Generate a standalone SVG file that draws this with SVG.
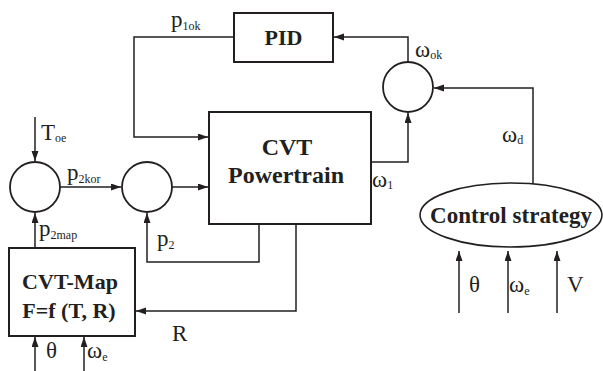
<svg xmlns="http://www.w3.org/2000/svg" width="603" height="371" viewBox="0 0 603 371">
<style>
.box{fill:#fff;stroke:#231f20;stroke-width:2}
.circ{fill:#fff;stroke:#231f20;stroke-width:1.8}
.wire{fill:none;stroke:#231f20;stroke-width:1.5}
.bt{font-family:"Liberation Serif",serif;font-weight:bold;fill:#231f20;text-anchor:middle}
.lb{font-family:"Liberation Serif",serif;fill:#231f20;font-size:23px}
.sb{font-size:12px}
</style>
<defs>
<marker id="ar" markerUnits="userSpaceOnUse" markerWidth="11" markerHeight="8" refX="10" refY="3.5" orient="auto">
<path d="M0,0 L10,3.5 L0,7 z" fill="#231f20"/>
</marker>
</defs>
<rect width="603" height="371" fill="#fff"/>
<g id="connectors">
<path class="wire" d="M234,37 H134 V137 H208" marker-end="url(#ar)"/>
<path class="wire" d="M408,62 V37 H334" marker-end="url(#ar)"/>
<path class="wire" d="M371,162 H408 V113" marker-end="url(#ar)"/>
<path class="wire" d="M533,184 V88 H434" marker-end="url(#ar)"/>
<path class="wire" d="M35,117 V161" marker-end="url(#ar)"/>
<path class="wire" d="M60,187 H121" marker-end="url(#ar)"/>
<path class="wire" d="M172,187 H208" marker-end="url(#ar)"/>
<path class="wire" d="M35,248 V213" marker-end="url(#ar)"/>
<path class="wire" d="M259,224 V262 H147 V213" marker-end="url(#ar)"/>
<path class="wire" d="M296,224 V311 H136" marker-end="url(#ar)"/>
<path class="wire" d="M35,371 V337" marker-end="url(#ar)"/>
<path class="wire" d="M84,371 V337" marker-end="url(#ar)"/>
<path class="wire" d="M459,313 V251" marker-end="url(#ar)"/>
<path class="wire" d="M508,313 V251" marker-end="url(#ar)"/>
<path class="wire" d="M557,313 V251" marker-end="url(#ar)"/>
</g>
<g id="pid">
<rect class="box" x="234" y="13" width="99" height="49"/>
<text class="bt" x="283.5" y="45" font-size="22">PID</text>
</g>
<g id="cvt-powertrain">
<rect class="box" x="209" y="112" width="162" height="112"/>
<text class="bt" x="287" y="155" font-size="24">CVT</text>
<text class="bt" x="286" y="183" font-size="24">Powertrain</text>
</g>
<g id="cvt-map">
<rect class="box" x="9" y="248" width="126" height="88"/>
<text class="bt" x="70" y="289" font-size="22">CVT-Map</text>
<text class="bt" x="69" y="318" font-size="22">F=f (T, R)</text>
</g>
<g id="sum-omega">
<circle class="circ" cx="408" cy="87" r="25"/>
</g>
<g id="sum-1">
<circle class="circ" cx="35" cy="187" r="25"/>
</g>
<g id="sum-2">
<circle class="circ" cx="147" cy="187" r="25"/>
</g>
<g id="control-strategy">
<ellipse cx="511" cy="215" rx="91" ry="32" fill="#fff" stroke="#231f20" stroke-width="1.6"/>
<text class="bt" x="511" y="223" font-size="23" textLength="162">Control strategy</text>
</g>
<g id="labels">
<text class="lb" x="171" y="27">p<tspan class="sb" dy="3">1ok</tspan></text>
<text class="lb" x="415" y="57">ω<tspan class="sb" dy="2">ok</tspan></text>
<text class="lb" x="372" y="187">ω<tspan class="sb" dy="2">1</tspan></text>
<text class="lb" x="502" y="142">ω<tspan class="sb" dy="2">d</tspan></text>
<text class="lb" x="41" y="140">T<tspan class="sb" dy="2">oe</tspan></text>
<text class="lb" x="67" y="180">p<tspan class="sb" dy="3">2kor</tspan></text>
<text class="lb" x="39" y="236">p<tspan class="sb" dy="3">2map</tspan></text>
<text class="lb" x="157" y="246">p<tspan class="sb" dy="3">2</tspan></text>
<text class="lb" x="172" y="341">R</text>
<text class="lb" x="46" y="358">θ</text>
<text class="lb" x="87" y="358">ω<tspan class="sb" dy="3">e</tspan></text>
<text class="lb" x="469" y="292">θ</text>
<text class="lb" x="509" y="292">ω<tspan class="sb" dy="3">e</tspan></text>
<text class="lb" x="567" y="292">V</text>
</g>
</svg>
